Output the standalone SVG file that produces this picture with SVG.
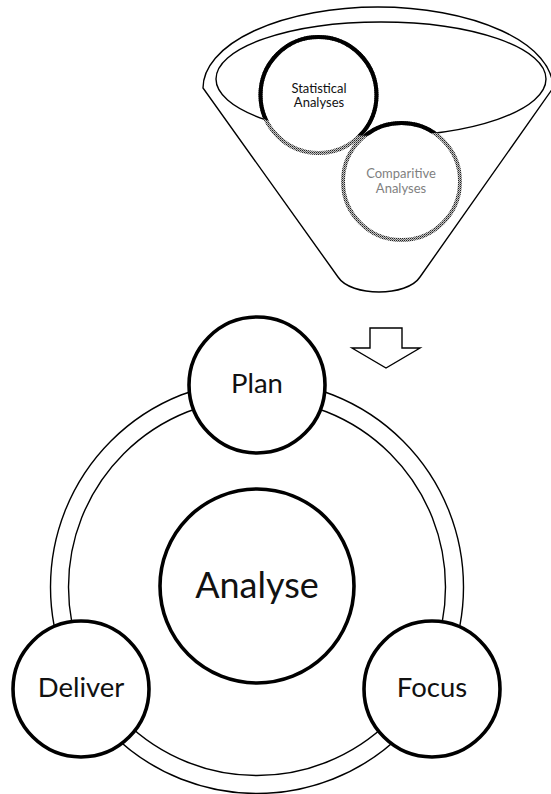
<svg xmlns="http://www.w3.org/2000/svg" width="551" height="794" viewBox="0 0 551 794">
  <style>
    .thin { fill: none; stroke: #000; stroke-width: 1.4; }
    .node { fill: #fff; stroke: #000; stroke-width: 3.6; }
    .lbl { font-family: Lato, "Open Sans", sans-serif; fill: #111; text-anchor: middle; }
    .small { font-size: 13px; }
    .big { font-size: 27.5px; }
  </style>
  <defs>
    <pattern id="hatch" width="2" height="2" patternUnits="userSpaceOnUse">
      <rect width="2" height="2" fill="#c4c4c4"/>
      <rect width="1" height="1" fill="#222"/>
      <rect x="1" y="1" width="1" height="1" fill="#666"/>
    </pattern>
    <clipPath id="innerClip">
      <ellipse cx="381" cy="79" rx="165" ry="57"/>
    </clipPath>
  </defs>

  <g id="funnel">
    <path class="thin" d="M 203,88 A 175,81 0 0 1 553,88 L 420,277 C 407,297 351,297 338,277 Z" style="fill:#fff"/>
    <ellipse class="thin" cx="381" cy="79" rx="165" ry="57"/>
  </g>

  <g id="statistical">
    <circle cx="318.5" cy="95" r="58" fill="#fff" stroke="url(#hatch)" stroke-width="4"/>
    <circle cx="318.5" cy="95" r="58" fill="none" stroke="#000" stroke-width="4" clip-path="url(#innerClip)"/>
    <text class="lbl small" x="319" y="92.5">Statistical</text>
    <text class="lbl small" x="319" y="107">Analyses</text>
  </g>

  <g id="comparitive">
    <circle cx="401.5" cy="181.5" r="58.5" fill="#fff" stroke="url(#hatch)" stroke-width="4"/>
    <circle cx="401.5" cy="181.5" r="58.5" fill="none" stroke="#000" stroke-width="4" clip-path="url(#innerClip)"/>
    <text class="lbl small" x="401" y="177.5" style="fill:#7f7f7f">Comparitive</text>
    <text class="lbl small" x="401" y="193" style="fill:#7f7f7f">Analyses</text>
  </g>

  <g id="arrow">
    <polygon class="thin" points="370,328 402,328 402,348 420,348 386,368 352,348 370,348" style="fill:#fff"/>
  </g>

  <g id="connectors">
    <circle class="thin" cx="257" cy="587" r="206.5"/>
    <circle class="thin" cx="257" cy="587" r="188.5"/>
  </g>

  <g id="analyse">
    <circle class="node" cx="257" cy="586" r="97"/>
    <text class="lbl" x="257" y="598" style="font-size:36px">Analyse</text>
  </g>

  <g id="plan">
    <circle class="node" cx="257" cy="385" r="68"/>
    <text class="lbl big" x="257" y="393">Plan</text>
  </g>

  <g id="deliver">
    <circle class="node" cx="81" cy="689" r="68"/>
    <text class="lbl big" x="81" y="697">Deliver</text>
  </g>

  <g id="focus">
    <circle class="node" cx="432" cy="689" r="68"/>
    <text class="lbl big" x="432" y="697">Focus</text>
  </g>
</svg>
